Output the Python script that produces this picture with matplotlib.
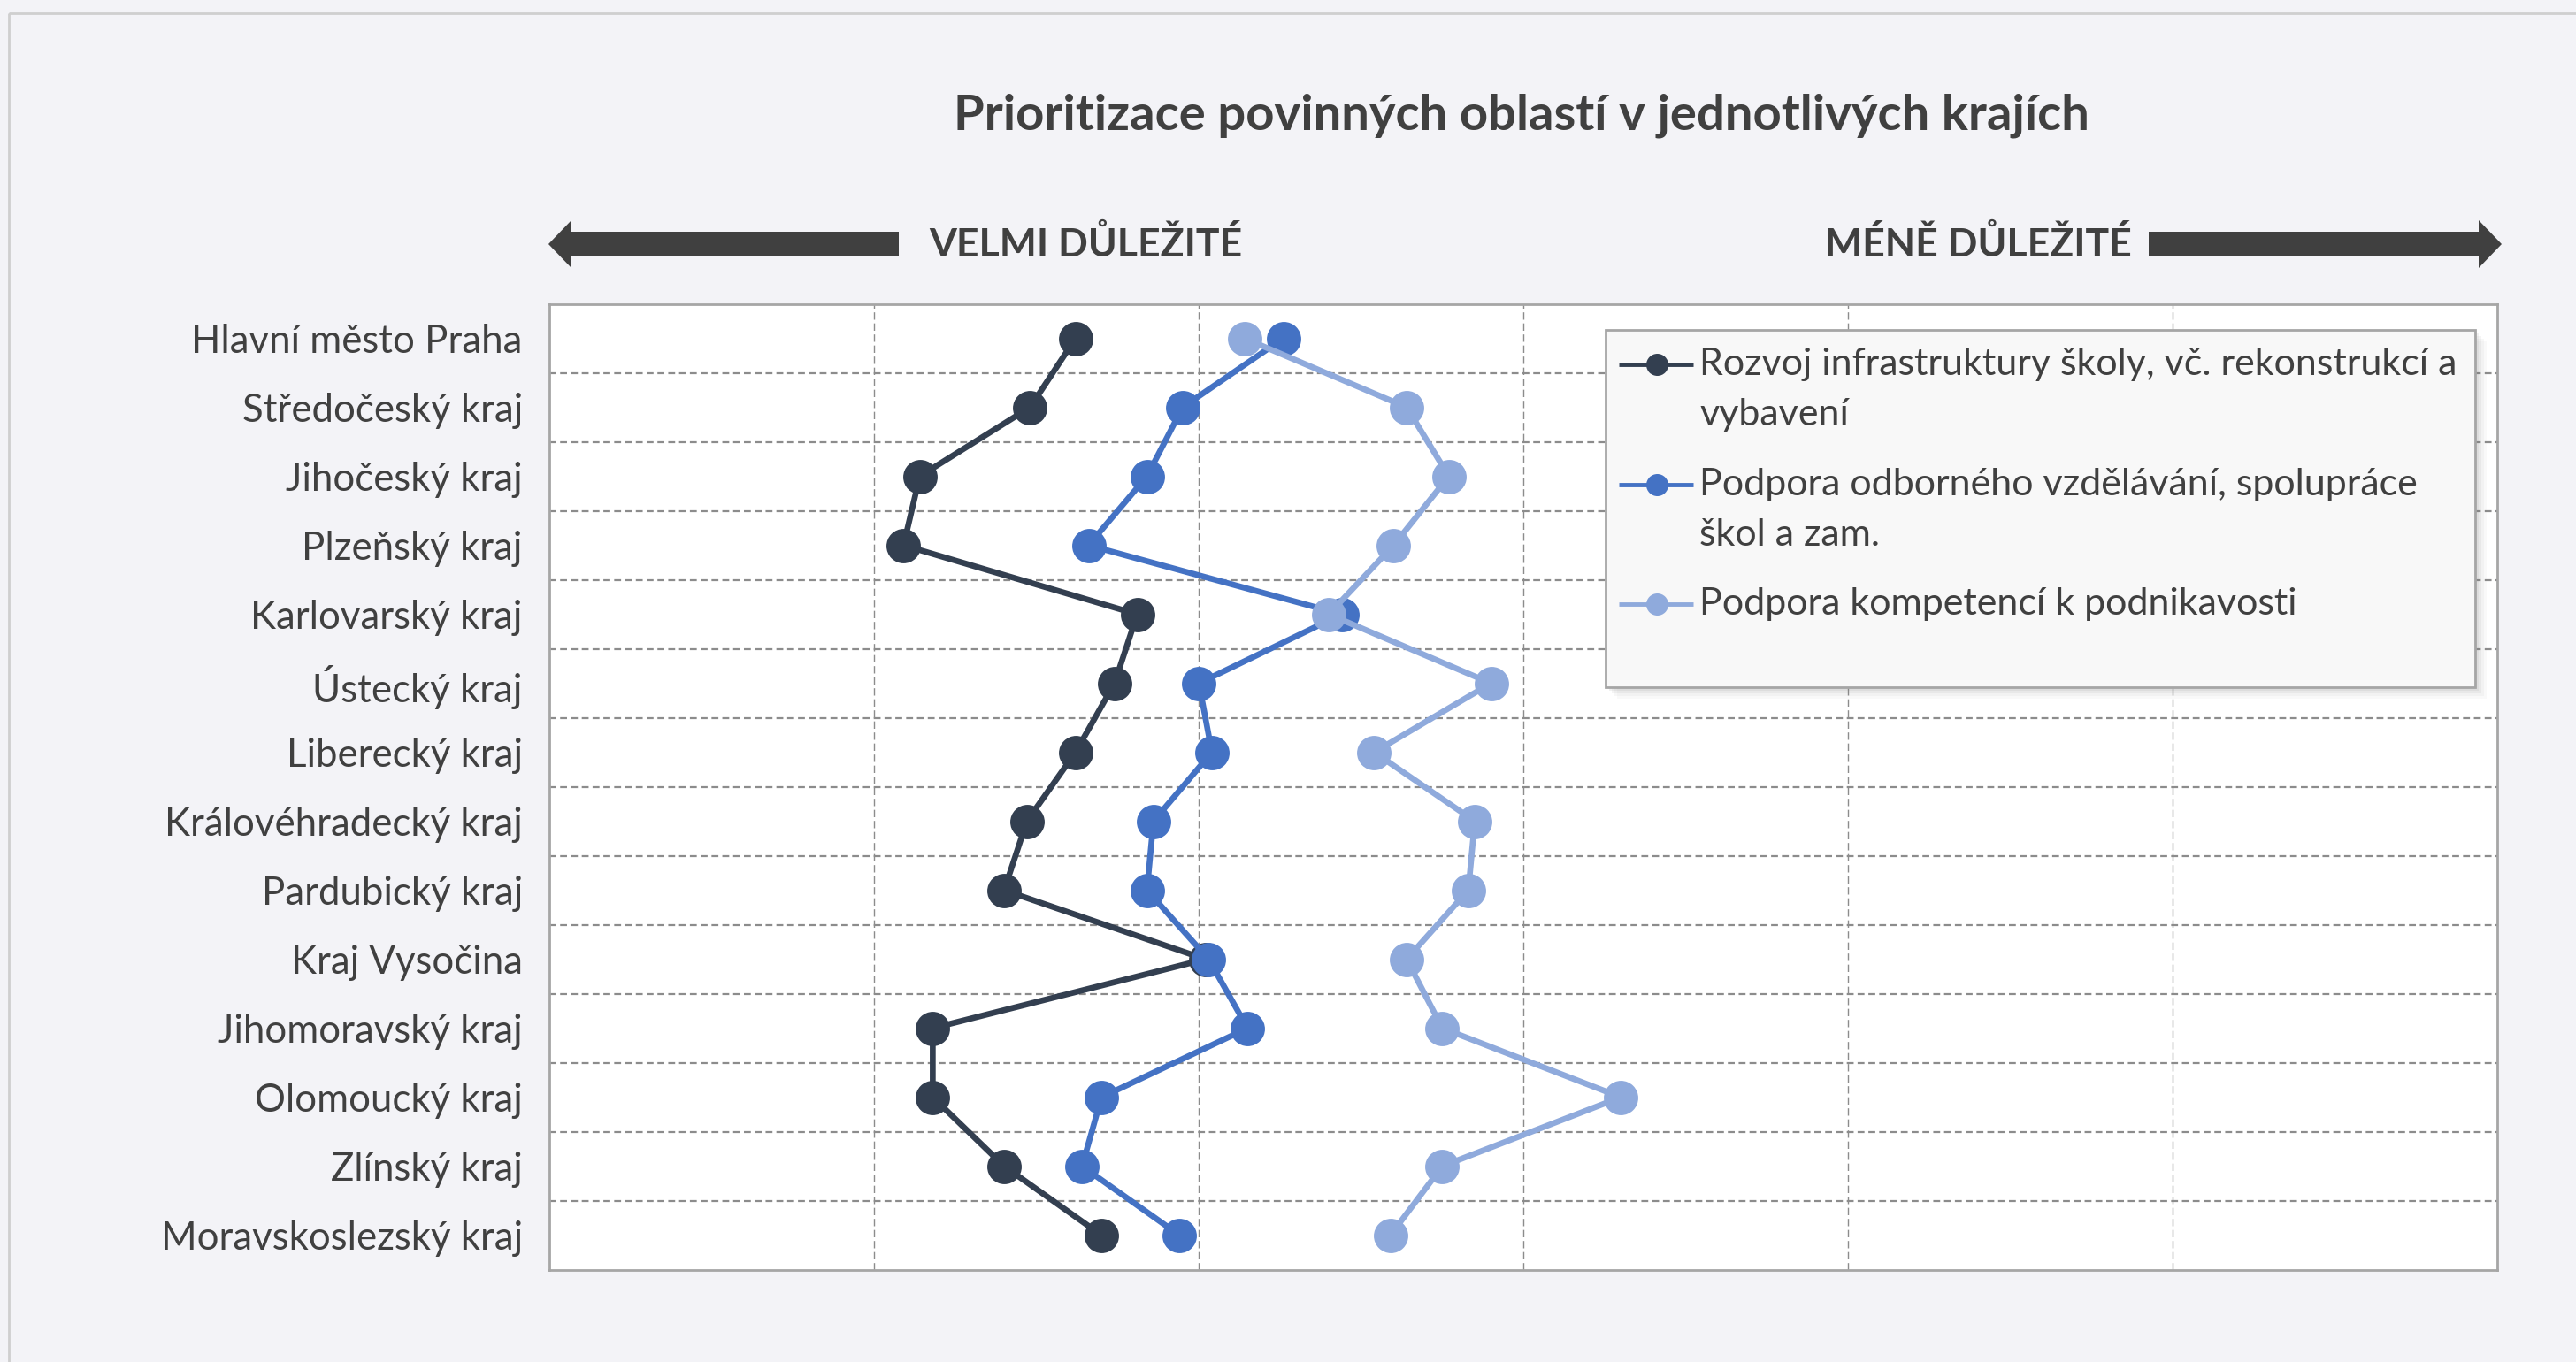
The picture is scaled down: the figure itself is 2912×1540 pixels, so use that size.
import matplotlib
matplotlib.use('Agg')
import matplotlib.pyplot as plt
from matplotlib.patches import Polygon, Rectangle

plt.rcParams['font.family'] = ['Lato', 'DejaVu Sans']

regions = ["Hlavní město Praha", "Středočeský kraj", "Jihočeský kraj", "Plzeňský kraj",
           "Karlovarský kraj", "Ústecký kraj", "Liberecký kraj", "Královéhradecký kraj",
           "Pardubický kraj", "Kraj Vysočina", "Jihomoravský kraj", "Olomoucký kraj",
           "Zlínský kraj", "Moravskoslezský kraj"]

infrastruktura = [2.62, 2.48, 2.14, 2.09, 2.81, 2.74, 2.62, 2.47, 2.40, 3.02, 2.18, 2.18, 2.40, 2.70]
odborne = [3.26, 2.95, 2.84, 2.66, 3.44, 3.00, 3.04, 2.86, 2.84, 3.03, 3.15, 2.70, 2.64, 2.94]
podnikavost = [3.14, 3.64, 3.77, 3.60, 3.40, 3.90, 3.54, 3.85, 3.83, 3.64, 3.75, 4.30, 3.75, 3.59]

series_names = ["Rozvoj infrastruktury školy, vč. rekonstrukcí a\nvybavení",
                "Podpora odborného vzdělávání, spolupráce\nškol a zam.",
                "Podpora kompetencí k podnikavosti"]
colors = ['#333F50', '#4472C4', '#8FAADC']

TXT = '#404040'
W, H = 2912, 1540

fig = plt.figure(figsize=(W / 100, H / 100), dpi=100)
fig.patch.set_facecolor('#F3F3F7')

ax = fig.add_axes([621.4 / W, 1 - 1435.6 / H, (2823 - 621.4) / W, (1435.6 - 343.5) / H])
ax.set_facecolor('white')

ypos = list(range(len(regions)))
for vals, col in zip([infrastruktura, odborne, podnikavost], colors):
    ax.plot(vals, ypos, color=col, lw=4.8, marker='o', markersize=28,
            markeredgewidth=0, zorder=3)

ax.set_xlim(1, 7)
ax.set_ylim(len(regions) - 0.5, -0.5)
ax.set_xticks([2, 3, 4, 5, 6])
ax.set_xticklabels([])
ax.set_yticks(ypos)
ax.set_yticklabels(regions, fontsize=31.5, color=TXT)
ax.set_yticks([i + 0.5 for i in range(len(regions) - 1)], minor=True)
ax.tick_params(axis='both', which='both', length=0)
ax.tick_params(axis='y', pad=22)
ax.grid(axis='x', which='major', color='#8C8C8C', lw=1.0, linestyle=(0, (6, 3)))
ax.grid(axis='y', which='minor', color='#8C8C8C', lw=1.6, linestyle=(0, (3.5, 2)))
ax.grid(axis='y', which='major', visible=False)
for s in ax.spines.values():
    s.set_color('#A6A6A6')
    s.set_linewidth(2)

# overlay in pixel coordinates for decorations
ov = fig.add_axes([0, 0, 1, 1])
ov.set_xlim(0, W)
ov.set_ylim(H, 0)
ov.axis('off')
ov.patch.set_alpha(0)

ov.add_patch(Rectangle((10, 15), W + 50, H + 50, fill=False, ec='#CFCFCF', lw=2))

ov.text(1720, 131, "Prioritizace povinných oblastí v jednotlivých krajích",
        ha='center', va='center', fontsize=40.5, fontweight='bold', color=TXT)

# arrows
ay = 276
ov.add_patch(Polygon([(620, ay), (646, ay - 27), (646, ay - 14), (1016, ay - 14),
                      (1016, ay + 14), (646, ay + 14), (646, ay + 27)],
                     closed=True, fc='#404040', ec='none'))
ov.add_patch(Polygon([(2828, ay), (2802, ay - 27), (2802, ay - 14), (2429, ay - 14),
                      (2429, ay + 14), (2802, ay + 14), (2802, ay + 27)],
                     closed=True, fc='#404040', ec='none'))
ov.text(1050, ay, "VELMI DŮLEŽITÉ", ha='left', va='center', fontsize=32,
        fontweight='bold', color=TXT)
ov.text(2410, ay, "MÉNĚ DŮLEŽITÉ", ha='right', va='center', fontsize=32,
        fontweight='bold', color=TXT)

# legend
lx0, ly0, lx1, ly1 = 1815, 373, 2798, 777
for k, a in enumerate([0.10, 0.08, 0.06, 0.04]):
    d = 4 + k * 3
    ov.add_patch(Rectangle((lx0 + d, ly0 + d), lx1 - lx0, ly1 - ly0,
                           fc='#7F7F7F', ec='none', alpha=a))
ov.add_patch(Rectangle((lx0, ly0), lx1 - lx0, ly1 - ly0, fc='#F8F8F8', ec='#A6A6A6', lw=2))
entry_y = [412, 548, 683]
for name, col, yy in zip(series_names, colors, entry_y):
    ov.plot([1830, 1914], [yy, yy], color=col, lw=3.5, solid_capstyle='butt')
    ov.plot([1873], [yy], 'o', color=col, markersize=18, markeredgewidth=0)
    for j, line in enumerate(name.split('\n')):
        ov.text(1921, yy + j * 57, line, ha='left', va='center', fontsize=31, color=TXT)

fig.savefig('out.png', dpi=100, facecolor=fig.get_facecolor())
